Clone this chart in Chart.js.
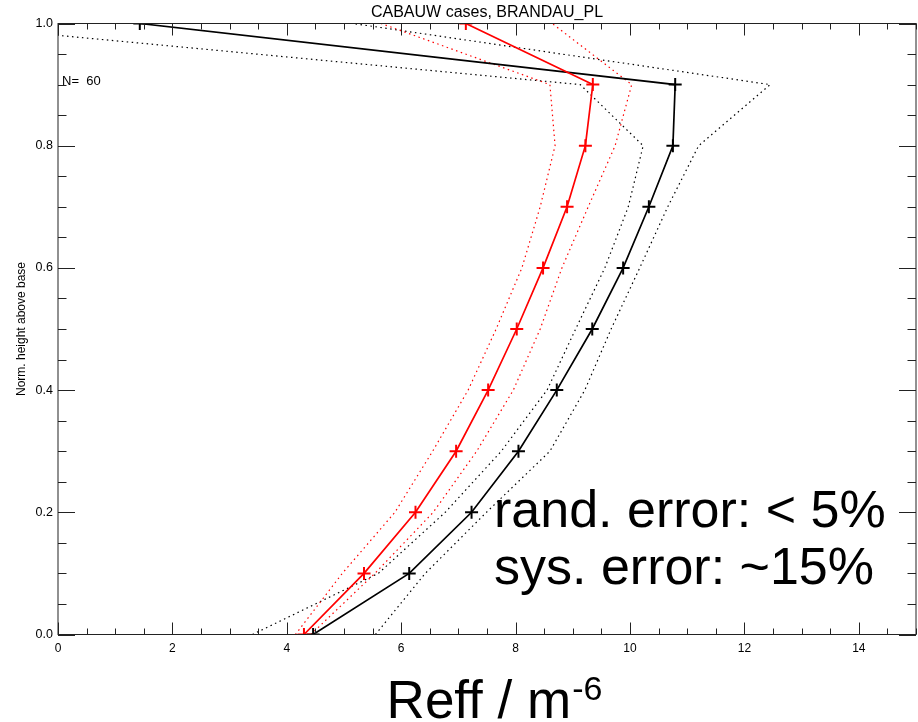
<!DOCTYPE html>
<html lang="en">
<head>
<meta charset="UTF-8">
<title>CABAUW cases, BRANDAU_PL</title>
<script src="https://cdn.jsdelivr.net/npm/chart.js"></script>
<style>
  body { margin: 0; background: #ffffff; }
  #wrap { width: 918px; height: 722px; position: relative; }
</style>
</head>
<body>
<div id="wrap"><canvas id="profile"></canvas></div>
<script>
  // normalised height above cloud base, shared by all profiles
  const heights = [0.0, 0.1, 0.2, 0.3, 0.4, 0.5, 0.6, 0.7, 0.8, 0.9, 1.0];

  // black profile and its dotted envelope
  const blackMean = [4.46, 6.14, 7.23, 8.05, 8.72, 9.34, 9.88, 10.33, 10.75, 10.79, 1.43];
  const blackLow  = [3.40, 5.60, 6.77, 7.75, 8.55, 9.05, 9.56, 9.97, 10.23, 9.13, -2.2];
  const blackHigh = [5.55, 6.42, 7.49, 8.60, 9.21, 9.67, 10.17, 10.66, 11.20, 12.45, 5.16];

  // red profile and its dotted envelope
  const redMean = [4.30, 5.35, 6.25, 6.96, 7.52, 8.02, 8.48, 8.90, 9.22, 9.35, 7.13];
  const redLow  = [4.15, 4.97, 5.89, 6.55, 7.17, 7.66, 8.11, 8.43, 8.69, 8.60, 5.65];
  const redHigh = [4.42, 5.54, 6.56, 7.32, 7.96, 8.43, 8.81, 9.27, 9.74, 10.03, 8.64];

  const xTicks = [0, 2, 4, 6, 8, 10, 12, 14];
  const yTicks = [0.0, 0.2, 0.4, 0.6, 0.8, 1.0];
  const nCases = 60;

  const FONT = "'Liberation Sans', Arial, sans-serif";

  function profile(xs, color, dotted, order) {
    return {
      data: xs.map((v, i) => ({ x: v, y: heights[i] })),
      showLine: true,
      borderColor: color,
      backgroundColor: color,
      borderWidth: dotted ? 1.2 : 1.7,
      borderDash: dotted ? [1.5, 3.5] : [],
      pointStyle: 'cross',
      pointRadius: dotted ? 0 : 6.5,
      pointBorderWidth: 2,
      pointBorderColor: color,
      tension: 0,
      clip: 0,
      order: order
    };
  }

  // frame with inward ticks on all four sides, plus the texts
  const decorations = {
    id: 'decorations',
    afterDraw(chart) {
      const { ctx, chartArea: a, scales: { x, y } } = chart;
      ctx.save();
      ctx.strokeStyle = '#222';
      ctx.lineWidth = 1;
      ctx.strokeRect(a.left, a.top, a.right - a.left, a.bottom - a.top);

      ctx.beginPath();
      for (let i = 0; i <= 30; i++) {
        const px = Math.round(x.getPixelForValue(i * 0.5)) + 0.5;
        const len = i % 4 === 0 ? 12 : 6;
        ctx.moveTo(px, a.bottom); ctx.lineTo(px, a.bottom - len);
        ctx.moveTo(px, a.top); ctx.lineTo(px, a.top + len);
      }
      for (let i = 0; i <= 20; i++) {
        const py = Math.round(y.getPixelForValue(i * 0.05)) + 0.5;
        const len = i % 4 === 0 ? 17 : 8.5;
        ctx.moveTo(a.left, py); ctx.lineTo(a.left + len, py);
        ctx.moveTo(a.right, py); ctx.lineTo(a.right - len, py);
      }
      ctx.stroke();

      ctx.fillStyle = '#000';
      const cx = (a.left + a.right) / 2;

      // title
      ctx.font = '16px ' + FONT;
      ctx.textAlign = 'center';
      ctx.textBaseline = 'alphabetic';
      ctx.fillText('CABAUW cases, BRANDAU_PL', cx, 17);

      // case count
      ctx.font = '13px ' + FONT;
      ctx.textAlign = 'left';
      ctx.fillText('N=  ' + nCases, 62, 85);

      // y axis title
      ctx.save();
      ctx.translate(25, (a.top + a.bottom) / 2);
      ctx.rotate(-Math.PI / 2);
      ctx.font = '12px ' + FONT;
      ctx.textAlign = 'center';
      ctx.fillText('Norm. height above base', 0, 0);
      ctx.restore();

      // x axis title with superscript
      ctx.font = '53px ' + FONT;
      const main = 'Reff / m';
      const wMain = ctx.measureText(main).width;
      ctx.font = '34px ' + FONT;
      const wSup = ctx.measureText('-6').width;
      const start = cx + 7 - (wMain + wSup) / 2;
      ctx.textAlign = 'left';
      ctx.font = '53px ' + FONT;
      ctx.fillText(main, start, 718);
      ctx.font = '34px ' + FONT;
      ctx.fillText('-6', start + wMain + 1, 700);

      // error notes
      ctx.font = '52px ' + FONT;
      ctx.fillText('rand. error: < 5%', 494, 527);
      ctx.fillText('sys. error: ~15%', 494, 584);
      ctx.restore();
    }
  };

  new Chart(document.getElementById('profile'), {
    type: 'scatter',
    data: {
      datasets: [
        profile(redMean, '#ff0000', false, 0),
        profile(blackMean, '#000000', false, 1),
        profile(redLow, '#ff0000', true, 2),
        profile(redHigh, '#ff0000', true, 3),
        profile(blackLow, '#000000', true, 4),
        profile(blackHigh, '#000000', true, 5)
      ]
    },
    options: {
      responsive: true,
      maintainAspectRatio: false,
      animation: false,
      layout: { autoPadding: false, padding: { top: 23.5, right: 2, left: 0, bottom: 0 } },
      plugins: {
        legend: { display: false },
        tooltip: { enabled: false },
        title: { display: false }
      },
      scales: {
        x: {
          type: 'linear',
          min: 0,
          max: 15,
          afterBuildTicks: s => { s.ticks = xTicks.map(v => ({ value: v })); },
          afterFit: s => { s.height = 87.5; s.paddingLeft = 0; s.paddingRight = 0; },
          grid: { display: false, drawTicks: false },
          border: { display: false },
          ticks: {
            color: '#000',
            font: { family: FONT, size: 12 },
            padding: 7,
            maxRotation: 0,
            autoSkip: false,
            callback: v => String(v)
          }
        },
        y: {
          type: 'linear',
          min: 0,
          max: 1,
          afterBuildTicks: s => { s.ticks = yTicks.map(v => ({ value: v })); },
          afterFit: s => { s.width = 58; s.paddingTop = 0; s.paddingBottom = 0; },
          grid: { display: false, drawTicks: false },
          border: { display: false },
          ticks: {
            color: '#000',
            font: { family: FONT, size: 12.5 },
            padding: 5,
            autoSkip: false,
            callback: v => Number(v).toFixed(1)
          }
        }
      }
    },
    plugins: [decorations]
  });
</script>
</body>
</html>
